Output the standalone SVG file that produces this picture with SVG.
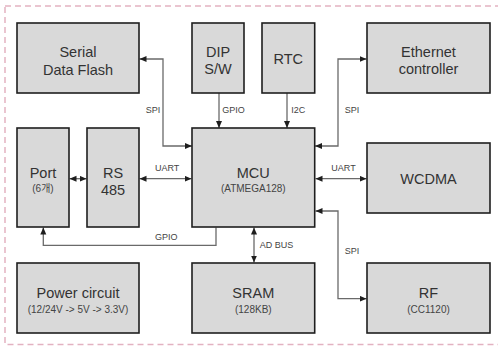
<svg xmlns="http://www.w3.org/2000/svg" width="498" height="347" viewBox="0 0 498 347">
<defs>
<style>
.box{fill:#d9d9d9;stroke:#1e1e1e;stroke-width:1.6}
.t{font-family:"Liberation Sans","Noto Sans CJK KR",sans-serif;font-size:14.5px;fill:#333;text-anchor:middle}
.s{font-family:"Liberation Sans","Noto Sans CJK KR",sans-serif;font-size:10px;fill:#444;text-anchor:middle}
.l{font-family:"Liberation Sans","Noto Sans CJK KR",sans-serif;font-size:9px;fill:#444}
.c{fill:none;stroke:#6a6a6a;stroke-width:1.3}
</style>
<marker id="ar" markerUnits="userSpaceOnUse" markerWidth="8" markerHeight="7" refX="7" refY="3" orient="auto-start-reverse">
<path d="M0,0 L7,3 L0,6 z" fill="#1e1e1e"/>
</marker>
</defs>
<rect x="0" y="0" width="498" height="347" fill="#fff"/>
<rect x="5" y="6" width="500" height="338.5" fill="none" stroke="#e3b2c1" stroke-width="1.5" stroke-dasharray="6,4"/>
<g id="connectors">
<path class="c" d="M192,146 H163 V59 H139.5" marker-start="url(#ar)" marker-end="url(#ar)"/>
<path class="c" d="M219,93 V128" marker-end="url(#ar)"/>
<path class="c" d="M287,93 V128" marker-end="url(#ar)"/>
<path class="c" d="M315,146 H338 V59 H366.5" marker-start="url(#ar)" marker-end="url(#ar)"/>
<path class="c" d="M69.5,178.7 H86.5" marker-start="url(#ar)" marker-end="url(#ar)"/>
<path class="c" d="M139.5,178.7 H191.5" marker-start="url(#ar)" marker-end="url(#ar)"/>
<path class="c" d="M315.5,178.7 H366.5" marker-start="url(#ar)" marker-end="url(#ar)"/>
<path class="c" d="M315.5,211 H338 V298.7 H366.5" marker-start="url(#ar)" marker-end="url(#ar)"/>
<path class="c" d="M254,227.5 V262.5" marker-start="url(#ar)" marker-end="url(#ar)"/>
<path class="c" d="M216,227.5 V245.3 H43.3 V227.5" marker-end="url(#ar)"/>
<text class="l" x="145.7" y="112.7">SPI</text>
<text class="l" x="222.3" y="112.7">GPIO</text>
<text class="l" x="291.3" y="112.7">I2C</text>
<text class="l" x="344.7" y="112.7">SPI</text>
<text class="l" x="155" y="170.7">UART</text>
<text class="l" x="331.3" y="170.7">UART</text>
<text class="l" x="155" y="239.7">GPIO</text>
<text class="l" x="344.7" y="253.7">SPI</text>
<text class="l" x="259.7" y="248">AD BUS</text>
</g>
<g id="flash"><rect class="box" x="17" y="23" width="122" height="70"/><text class="t" x="78" y="57">Serial</text><text class="t" x="78" y="74.5">Data Flash</text></g>
<g id="dip"><rect class="box" x="192" y="23" width="52" height="70"/><text class="t" x="218" y="57">DIP</text><text class="t" x="218" y="74">S/W</text></g>
<g id="rtc"><rect class="box" x="262" y="23" width="52.7" height="70"/><text class="t" x="288.3" y="63.5">RTC</text></g>
<g id="ethernet"><rect class="box" x="367" y="23" width="123" height="70"/><text class="t" x="428.5" y="57">Ethernet</text><text class="t" x="428.5" y="74">controller</text></g>
<g id="port"><rect class="box" x="17" y="128" width="52" height="99"/><text class="t" x="43" y="178">Port</text><text class="s" x="43" y="192">(6개)</text></g>
<g id="rs485"><rect class="box" x="87" y="128" width="52" height="99"/><text class="t" x="113" y="178">RS</text><text class="t" x="113" y="194.5">485</text></g>
<g id="mcu"><rect class="box" x="192" y="128" width="122.7" height="99"/><text class="t" x="253.3" y="178">MCU</text><text class="s" x="253.3" y="192">(ATMEGA128)</text></g>
<g id="wcdma"><rect class="box" x="367" y="143" width="123" height="70"/><text class="t" x="428.5" y="184">WCDMA</text></g>
<g id="power"><rect class="box" x="17" y="263" width="122" height="70"/><text class="t" x="78" y="298">Power circuit</text><text class="s" x="78" y="312.5" font-size="10.5">(12/24V -&gt; 5V -&gt; 3.3V)</text></g>
<g id="sram"><rect class="box" x="192" y="263" width="122.7" height="70"/><text class="t" x="253.3" y="298">SRAM</text><text class="s" x="253.3" y="312.5">(128KB)</text></g>
<g id="rf"><rect class="box" x="367" y="263" width="123" height="70"/><text class="t" x="428.5" y="298">RF</text><text class="s" x="428.5" y="312.5">(CC1120)</text></g>
</svg>
